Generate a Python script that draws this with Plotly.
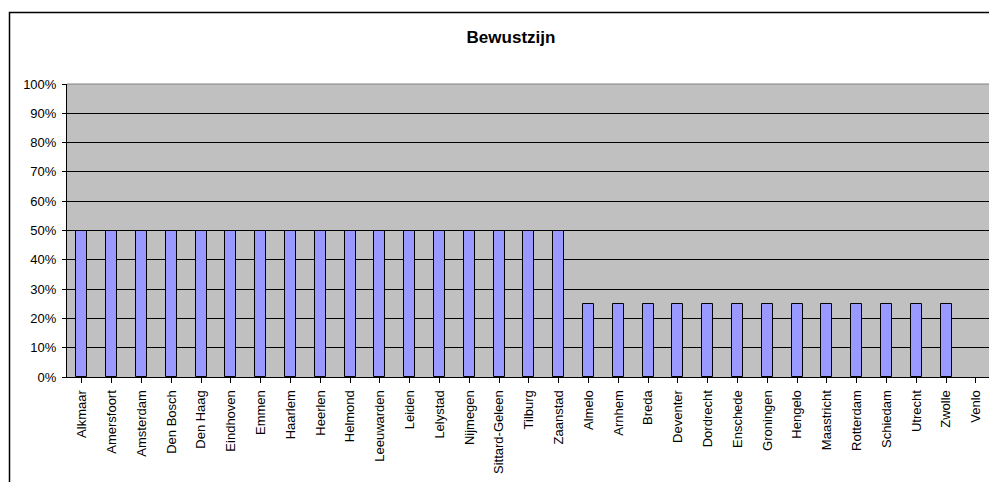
import plotly.graph_objects as go

categories = ["Alkmaar", "Amersfoort", "Amsterdam", "Den Bosch", "Den Haag", "Eindhoven",
              "Emmen", "Haarlem", "Heerlen", "Helmond", "Leeuwarden", "Leiden", "Lelystad",
              "Nijmegen", "Sittard-Geleen", "Tilburg", "Zaanstad", "Almelo", "Arnhem", "Breda",
              "Deventer", "Dordrecht", "Enschede", "Groningen", "Hengelo", "Maastricht",
              "Rotterdam", "Schiedam", "Utrecht", "Zwolle", "Venlo"]
values = [0.5] * 17 + [0.25] * 13 + [None]
y_ticks = [i / 10 for i in range(11)]
y_tick_labels = [f"{i * 10}%" for i in range(11)]
title_text = "Bewustzijn"

OFF = 8  # default page body margin
W, H = 997 - OFF, 482 - OFF
# plot-area edges in window pixels, converted to figure pixels
L, R_EDGE, T, B_EDGE = 67 - OFF, 997 - OFF, 84 - OFF, 377 - OFF
pw = R_EDGE - L
ph = B_EDGE - T

def px_x(px):
    return (px - OFF - L) / pw

def px_y(py):
    return (B_EDGE - (py - OFF)) / ph

fig = go.Figure()
fig.add_trace(go.Bar(
    x=list(range(len(categories))),
    y=values,
    width=0.37,
    marker=dict(color="#9999FF", line=dict(color="#000000", width=1)),
    hoverinfo="skip",
))

n = len(categories)
cat_w = 29.8
right_val = -0.5 + pw / cat_w

fig.update_layout(
    width=W, height=H,
    margin=dict(l=L, r=W - R_EDGE, t=T, b=H - B_EDGE, pad=0),
    paper_bgcolor="#FFFFFF",
    plot_bgcolor="#C0C0C0",
    showlegend=False,
    font=dict(family="Arial, Liberation Sans, sans-serif", size=13, color="#000000"),
    bargap=0,
    title=dict(text="<b>" + title_text + "</b>", x=(511 - OFF) / W, xanchor="center",
               y=1 - (37 - OFF) / H, yanchor="middle",
               font=dict(family="Arial, Liberation Sans, sans-serif", size=17, color="#000000")),
    xaxis=dict(
        tickmode="array", tickvals=list(range(n)), ticktext=categories,
        range=[-0.5, right_val], tickangle=-90,
        ticks="outside", ticklen=5, tickcolor="#000000", tickwidth=1,
        showgrid=False, zeroline=False,
        showline=True, linecolor="#000000", linewidth=1,
        ticklabelstandoff=2,
        tickfont=dict(size=13),
    ),
    yaxis=dict(
        range=[0, 1], tickmode="array", tickvals=y_ticks, ticktext=y_tick_labels,
        ticks="outside", ticklen=4, tickcolor="#000000", tickwidth=1,
        showgrid=True, gridcolor="#000000", gridwidth=1,
        zeroline=False, showline=True, linecolor="#000000", linewidth=1,
        ticklabelstandoff=3,
        tickfont=dict(size=13),
    ),
)

fig.update_xaxes(tickson="boundaries")

fig.add_shape(type="line", xref="paper", yref="paper", x0=0, x1=1, y0=1, y1=1,
              line=dict(color="#808080", width=1))
fig.add_shape(type="rect", xref="paper", yref="paper",
              x0=px_x(9.5), x1=px_x(1010), y0=px_y(500), y1=px_y(12.5),
              line=dict(color="#000000", width=1.5), fillcolor="rgba(0,0,0,0)", layer="above")

fig.write_html("out.html")
